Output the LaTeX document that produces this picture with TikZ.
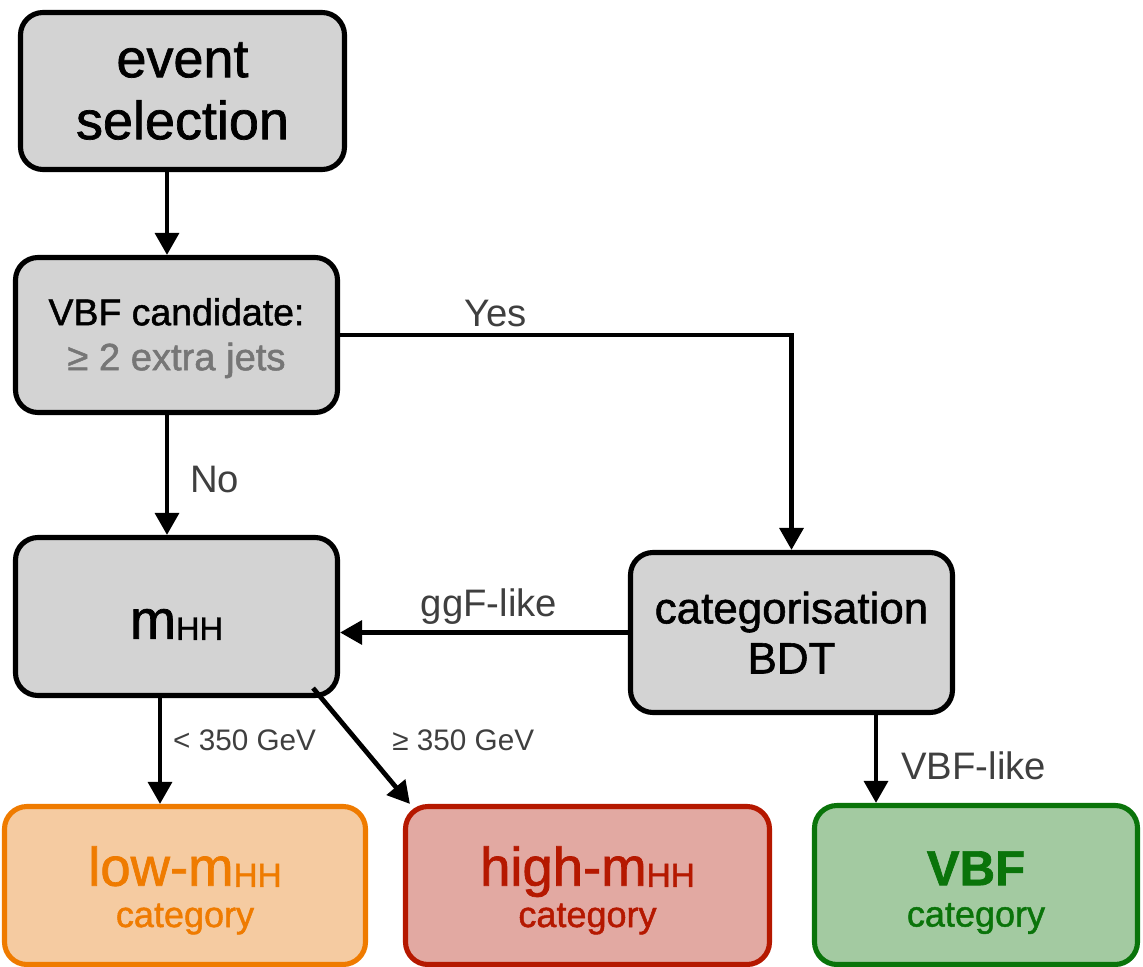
\documentclass[tikz,border=0pt]{standalone}
\usepackage{fontspec}
\setmainfont{Liberation Sans}
\newfontfamily\medfont{Liberation Sans}[RawFeature={embolden=1.3}]
\usepackage{xcolor}
\usetikzlibrary{positioning, arrows.meta}

\definecolor{boxgray}{HTML}{D3D3D3}
\definecolor{lblgray}{HTML}{3F3F3F}
\definecolor{txtgray}{HTML}{767676}
\definecolor{loworange}{HTML}{EF7B00}
\definecolor{lowfill}{HTML}{F5CBA1}
\definecolor{highred}{HTML}{B51800}
\definecolor{highfill}{HTML}{E2A9A2}
\definecolor{vbfgreen}{HTML}{0A740A}
\definecolor{vbffill}{HTML}{A3CAA1}

\newcommand{\fsz}[2]{\fontsize{#1pt}{#2pt}\selectfont}
\newcommand{\HH}[1]{\raisebox{-0.6pt}{\fontsize{#1pt}{#1pt}\selectfont HH}}
\newcommand{\catstrut}{\rule{0pt}{28pt}}

\begin{document}
\begin{tikzpicture}[
		box/.style={draw, line width=2.9pt, rounded corners=0.45cm, align=center, inner sep=0pt},
		graybox/.style={box, fill=boxgray, minimum width=6.44cm, minimum height=3.14cm},
		catbox/.style={box, minimum width=7.25cm, minimum height=3.16cm},
		arr/.style={line width=2.7pt, -{Triangle[length=0.44cm, width=0.47cm]}},
		lbl/.style={text=lblgray, font=\fsz{21.8}{24}},
		lblsmall/.style={text=lblgray, font=\fsz{16.9}{19}}
	]
	\useasboundingbox (0,0) rectangle (22.86,-19.34);

	% flow boxes
	\node[graybox, minimum width=6.48cm, font=\medfont\fsz{30.7}{35.3}] (sel) at (3.65, -1.82) {event\\selection};
	\node[graybox, minimum height=3.10cm, font=\medfont\fsz{21.3}{25.6}] (cand) at (3.53, -6.70) {\rule{0pt}{19pt}VBF candidate:\\\textcolor{txtgray}{\fsz{21.7}{25.6}≥ 2 extra jets}};
	\node[graybox, minimum height=3.16cm, font=\medfont\fsz{31.5}{30}] (mhh) at (3.53, -12.33) {\rule{0pt}{26pt}m\HH{18.5}};
	\node[graybox, minimum height=3.20cm, font=\medfont\fsz{25}{28.5}] (bdt) at (15.83, -12.65) {categorisation\\BDT};

	% categories
	\node[catbox, minimum width=7.22cm, fill=lowfill, draw=loworange, text=loworange, font=\medfont\fsz{20.5}{23.5}] (low) at (3.70, -17.71) {{\fsz{31}{23.5}\catstrut low-m\HH{19}}\\category};
	\node[catbox, minimum width=7.28cm, fill=highfill, draw=highred, text=highred, font=\medfont\fsz{20.5}{23.5}] (high) at (11.75, -17.71) {{\fsz{31}{23.5}\catstrut high-m\HH{19}}\\category};
	\node[catbox, minimum width=6.46cm, minimum height=3.18cm, fill=vbffill, draw=vbfgreen, text=vbfgreen, font=\medfont\fsz{20.5}{23.5}] (vbf) at (19.52, -17.70) {{\fsz{28}{23.5}\catstrut\bfseries VBF}\\category};

	% connectors
	\draw[arr] ([xshift=-0.31cm]sel.south) -- ([xshift=-0.31cm]sel.south |- cand.north);
	\draw[arr] ([xshift=-0.19cm]cand.south) -- ([xshift=-0.19cm]cand.south |- mhh.north) node[lbl, midway, right=0.3cm, yshift=-0.1cm] {No};
	\draw[arr, line join=miter] (cand.east) -- node[lbl, pos=0.345, above] {Yes} (cand.east -| bdt.north) -- (bdt.north);
	\draw[arr] (bdt.west) -- node[lbl, above, xshift=0.1cm] {ggF-like} (bdt.west -| mhh.east);
	\draw[arr] ([xshift=-0.33cm]mhh.south) -- ([xshift=-0.33cm]mhh.south |- low.north) node[lblsmall, pos=0.4, right=0.1cm] {< 350 GeV};
	\draw[arr] ([xshift=-0.54cm, yshift=0.2cm]mhh.south east) -- ([xshift=0.14cm]high.north west) node[lblsmall, pos=0.45, right=0.55cm] {≥ 350 GeV};
	\draw[arr] ([xshift=1.69cm]bdt.south) -- ([xshift=1.69cm]bdt.south |- vbf.north) node[lbl, midway, right=0.39cm, inner sep=2pt, yshift=-0.14cm] {VBF-like};
\end{tikzpicture}
\end{document}
